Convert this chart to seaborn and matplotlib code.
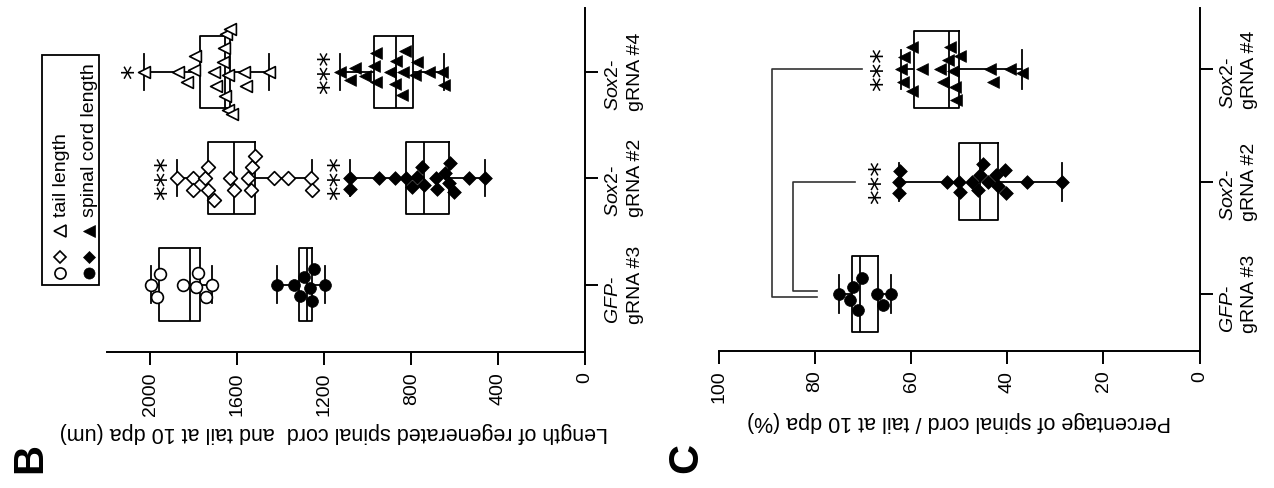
import numpy as np
import pandas as pd
import matplotlib
matplotlib.use("Agg")
import matplotlib.pyplot as plt
from matplotlib.lines import Line2D
from matplotlib.patches import Rectangle
import seaborn as sns

plt.rcParams['font.family'] = ['Liberation Sans', 'DejaVu Sans']
plt.rcParams['mathtext.fontset'] = 'custom'
plt.rcParams['mathtext.it'] = 'Liberation Sans:italic'
plt.rcParams['mathtext.rm'] = 'Liberation Sans'

# ---------------- data ----------------
categories = ['Sox2-gRNA #4', 'Sox2-gRNA #2', 'GFP-gRNA #3']   # top -> bottom in picture
cat_labels = [r"$\mathit{Sox2}$-" + "\ngRNA #4",
              r"$\mathit{Sox2}$-" + "\ngRNA #2",
              r"$\mathit{GFP}$-" + "\ngRNA #3"]
cat_markers = {'GFP-gRNA #3': 'o', 'Sox2-gRNA #2': 'D', 'Sox2-gRNA #4': '<'}
cat_sizes = {'GFP-gRNA #3': 8.5, 'Sox2-gRNA #2': 7, 'Sox2-gRNA #4': 8.5}

# Panel B: length (um)
gfp_tail = [1997, 1969, 1957, 1850, 1789, 1782, 1743, 1715]
sox2_2_tail = [1877, 1805, 1805, 1750, 1735, 1735, 1709, 1632, 1617, 1553, 1537,
               1532, 1517, 1430, 1367, 1260, 1257]
sox2_4_tail = [2031, 1873, 1831, 1801, 1796, 1709, 1697, 1666, 1660, 1655, 1651,
               1643, 1643, 1632, 1624, 1568, 1559, 1456]
gfp_sc = [1418, 1341, 1310, 1295, 1264, 1257, 1249, 1195]
sox2_2_sc = [1080, 1080, 950, 874, 823, 794, 774, 751, 740, 685, 682, 644, 625,
             621, 602, 536, 460]
sox2_4_sc = [1126, 1080, 1057, 1011, 973, 961, 961, 897, 874, 869, 843, 838, 828,
             782, 774, 720, 659, 651]

# Panel C: percentage spinal cord / tail
gfp_pct = [75.0, 72.7, 72.2, 71.0, 70.3, 67.2, 65.9, 64.1]
sox2_2_pct = [62.5, 62.5, 62.3, 52.6, 50.0, 49.8, 47.4, 46.0, 45.7, 45.1, 44.1,
              42.4, 41.9, 40.5, 40.3, 36.0, 28.6]
sox2_4_pct = [62.1, 61.8, 61.6, 59.9, 59.9, 57.8, 54.0, 53.3, 52.3, 51.9, 51.2,
              50.9, 50.7, 49.8, 43.6, 42.9, 39.4, 36.9]

b_ticks = [0, 400, 800, 1200, 1600, 2000]
c_ticks = [0, 20, 40, 60, 80, 100]

# significance marks
b_stars = [('Sox2-gRNA #4', 'tail', '*'), ('Sox2-gRNA #2', 'tail', '***'),
           ('Sox2-gRNA #4', 'sc', '***'), ('Sox2-gRNA #2', 'sc', '***')]
c_stars = ['Sox2-gRNA #4', 'Sox2-gRNA #2']
b_star_offset = 45
c_star_offset = 3.8
bracket_gfp_end = 79.7
bracket_outer_x, bracket_inner_x = 88.9, 84.7
bracket_end = {'Sox2-gRNA #4': 70.3, 'Sox2-gRNA #2': 71.7}


def long_df(groups):
    rows = []
    for cat, vals in groups.items():
        for v in vals:
            rows.append((cat, v))
    return pd.DataFrame(rows, columns=['group', 'value'])


tail_df = long_df({'GFP-gRNA #3': gfp_tail, 'Sox2-gRNA #2': sox2_2_tail,
                   'Sox2-gRNA #4': sox2_4_tail})
sc_df = long_df({'GFP-gRNA #3': gfp_sc, 'Sox2-gRNA #2': sox2_2_sc,
                 'Sox2-gRNA #4': sox2_4_sc})
pct_df = long_df({'GFP-gRNA #3': gfp_pct, 'Sox2-gRNA #2': sox2_2_pct,
                  'Sox2-gRNA #4': sox2_4_pct})

# ---------------- figure ----------------
W, H = 1274, 488
fig = plt.figure(figsize=(W / 100, H / 100), dpi=100)


def fx(px):
    return px / W


def fy(py):
    return 1 - py / H


axB = fig.add_axes([fx(107), fy(352), (585 - 107) / W, (352 - 8) / H])
axC = fig.add_axes([fx(719), fy(350.5), (1199.5 - 719) / W, (350.5 - 8) / H])

LW = 1.3


def draw_box(ax, df):
    sns.boxplot(data=df, x='value', y='group', order=categories, orient='h',
                whis=(0, 100), width=0.68, fill=False, color='black',
                linewidth=LW, showfliers=False, ax=ax)


def draw_points(ax, df, filled):
    for cat in categories:
        d = df[df['group'] == cat]
        sns.swarmplot(data=d, x='value', y='group', order=categories, orient='h',
                      marker=cat_markers[cat], size=cat_sizes[cat],
                      color='black' if filled else 'white', edgecolor='black',
                      linewidth=0.5 if filled else 1.2, ax=ax, zorder=3)


draw_box(axB, tail_df)
draw_box(axB, sc_df)
draw_points(axB, tail_df, False)
draw_points(axB, sc_df, True)

draw_box(axC, pct_df)
draw_points(axC, pct_df, True)


def style_axis(ax, xmax, ticks, ylim):
    ax.set_xlim(xmax, 0)
    ax.set_ylim(*ylim)
    for s in ['top', 'left']:
        ax.spines[s].set_visible(False)
    for s in ['right', 'bottom']:
        ax.spines[s].set_visible(True)
        ax.spines[s].set_linewidth(1.4)
        ax.spines[s].set_color('black')
    ax.set_xticks(ticks)
    ax.set_xticklabels([str(t) for t in ticks])
    ax.tick_params(axis='x', direction='out', length=9.5, width=1.4, pad=5,
                   labelsize=14, labelrotation=90, bottom=True, top=False)
    ax.yaxis.tick_right()
    ax.set_yticks(range(len(categories)))
    ax.set_yticklabels(cat_labels, fontsize=14, rotation=90, va='center',
                       ha='left', multialignment='left', linespacing=1.35)
    ax.tick_params(axis='y', direction='out', length=9.5, width=1.4, pad=5,
                   left=False, right=True)
    ax.set_ylabel('')
    ax.grid(False)
    ax.patch.set_alpha(0)


style_axis(axB, 2200, b_ticks, (2.635, -0.602))
style_axis(axC, 100, c_ticks, (2.506, -0.548))

axB.set_xlabel("Length of regenerated spinal cord  and tail at 10 dpa (um)",
               fontsize=15.5, rotation=180, va='center', ha='center')
axB.xaxis.set_label_coords(0.475, -0.2326)
axC.set_xlabel("Percentage of spinal cord / tail at 10 dpa (%)",
               fontsize=15.5, rotation=180, va='center', ha='center')
axC.xaxis.set_label_coords(0.5, -0.208)

# significance stars
for cat, which, s in b_stars:
    df = tail_df if which == 'tail' else sc_df
    vmax = df[df['group'] == cat]['value'].max()
    axB.text(vmax + b_star_offset, categories.index(cat), s, rotation=90,
             ha='center', va='center', fontsize=21, family='DejaVu Sans')
for cat in c_stars:
    vmax = pct_df[pct_df['group'] == cat]['value'].max()
    axC.text(vmax + c_star_offset, categories.index(cat), '***', rotation=90,
             ha='center', va='center', fontsize=21, family='DejaVu Sans')

# comparison brackets in C
gi = categories.index('GFP-gRNA #3')
i4 = categories.index('Sox2-gRNA #4')
i2 = categories.index('Sox2-gRNA #2')
axC.plot([bracket_gfp_end, bracket_outer_x, bracket_outer_x, bracket_end['Sox2-gRNA #4']],
         [gi + 0.026, gi + 0.026, i4, i4], color='#333333', lw=1.2, zorder=2)
axC.plot([bracket_gfp_end, bracket_inner_x, bracket_inner_x, bracket_end['Sox2-gRNA #2']],
         [gi - 0.026, gi - 0.026, i2, i2], color='#333333', lw=1.2, zorder=2)

# legend (rotated like the rest of the figure)
fig.add_artist(Rectangle((fx(41.8), fy(285)), (99 - 41.8) / W, (285 - 55) / H,
                         transform=fig.transFigure, fill=False, lw=1.3,
                         edgecolor='black'))
leg_rows = [(60.2, 'white', 'tail length'), (88.8, 'black', 'spinal cord length')]
leg_marks = [('o', 273.3, 8), ('D', 256.7, 6), ('<', 230.5, 8)]
for xr, fc, label in leg_rows:
    for m, yr, ms in leg_marks:
        fig.add_artist(Line2D([fx(xr)], [fy(yr)], marker=m, markersize=ms,
                              markerfacecolor=fc, markeredgecolor='black',
                              markeredgewidth=1.2 if fc == 'white' else 0.5,
                              linestyle='none', transform=fig.transFigure))
    fig.text(fx(xr + 1), fy(217), label, rotation=90, ha='center', va='bottom',
             fontsize=14)

# panel letters
fig.text(fx(30), fy(458), 'B', rotation=90, ha='center', va='center',
         fontsize=30, fontweight='bold')
fig.text(fx(686), fy(458), 'C', rotation=90, ha='center', va='center',
         fontsize=30, fontweight='bold')

fig.savefig('out.png', dpi=100)
